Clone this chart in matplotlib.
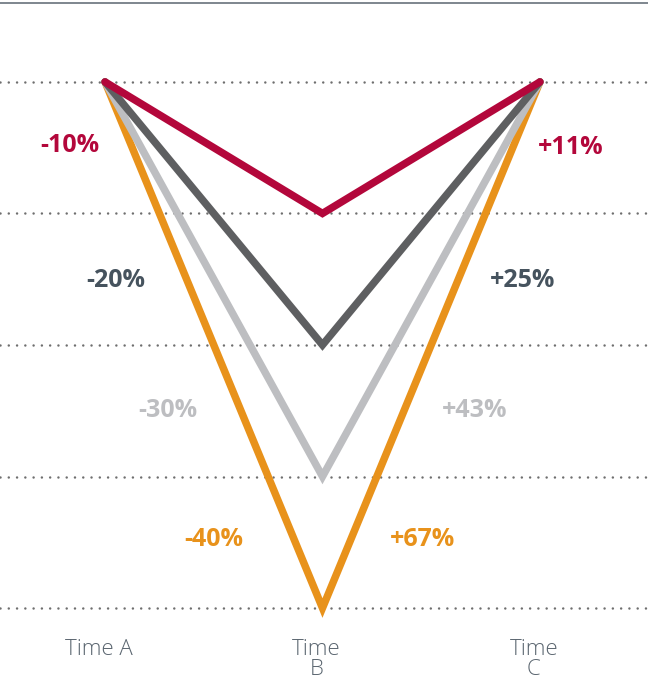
import matplotlib
matplotlib.use("Agg")
import matplotlib.pyplot as plt
import matplotlib.transforms as mtransforms

# --- data ---
times = ["Time A", "Time\nB", "Time\nC"]
red_vals = [100, 90, 100]
dark_vals = [100, 80, 100]
light_vals = [100, 70, 100]
orange_vals = [100, 60, 100]
grid_vals = [100, 90, 80, 70, 60]

labels_down = ["-10%", "-20%", "-30%", "-40%"]
labels_up = ["+11%", "+25%", "+43%", "+67%"]

# --- styles ---
RED = "#B3073B"
DARK = "#5E5F61"
LIGHT = "#BDBEC1"
ORANGE = "#E8921B"
DARK_TXT = "#46535E"
AXIS_TXT = "#5B6670"

series = [  # drawn bottom to top
    (orange_vals, ORANGE),
    (light_vals, LIGHT),
    (dark_vals, DARK),
    (red_vals, RED),
]
# label positions (x in category units, y in value units), top to bottom
down_pos = [(-0.16, 95.2), (0.05, 84.9), (0.29, 75.0), (0.50, 65.2)]
up_pos = [(2.14, 95.0), (1.92, 84.9), (1.70, 75.0), (1.46, 65.2)]

plt.rcParams['font.family'] = ['Open Sans', 'DejaVu Sans']

fig = plt.figure(figsize=(6.48, 6.82), dpi=100)
ax = fig.add_axes([0, 0.0909, 1, 0.9956 - 0.0909])

x = list(range(len(times)))

for g in grid_vals:
    ax.axhline(g, color="#6E6E6E", lw=1.8, ls=(0, (0.01, 3.3)),
               dash_capstyle="round", zorder=1)

for vals, col in series:
    ax.plot(x, vals, color=col, lw=5.4, solid_capstyle="round",
            solid_joinstyle="miter", zorder=3)

txt_cols = [RED, DARK_TXT, LIGHT, ORANGE]
for lab, (px, py), c in zip(labels_down, down_pos, txt_cols):
    ax.text(px, py, lab, color=c, fontsize=18, fontweight="bold",
            ha="center", va="center")
for lab, (px, py), c in zip(labels_up, up_pos, txt_cols):
    ax.text(px, py, lab, color=c, fontsize=18, fontweight="bold",
            ha="center", va="center")

ax.set_xlim(-0.483, 2.497)
ax.set_ylim(59.09, 106.0)

ax.set_xticks(x)
ax.set_xticklabels(times, color=AXIS_TXT, fontsize=16, fontweight="light",
                   linespacing=0.88, va="top")
ax.tick_params(axis="x", length=0, pad=14)
offset = mtransforms.ScaledTranslation(-6 / 100, 0, fig.dpi_scale_trans)
for t in ax.get_xticklabels():
    t.set_transform(t.get_transform() + offset)
ax.set_yticks([])

for s in ["left", "right", "bottom"]:
    ax.spines[s].set_visible(False)
ax.spines["top"].set_color(AXIS_TXT)
ax.spines["top"].set_linewidth(1.1)

fig.savefig("out.png", dpi=100)
